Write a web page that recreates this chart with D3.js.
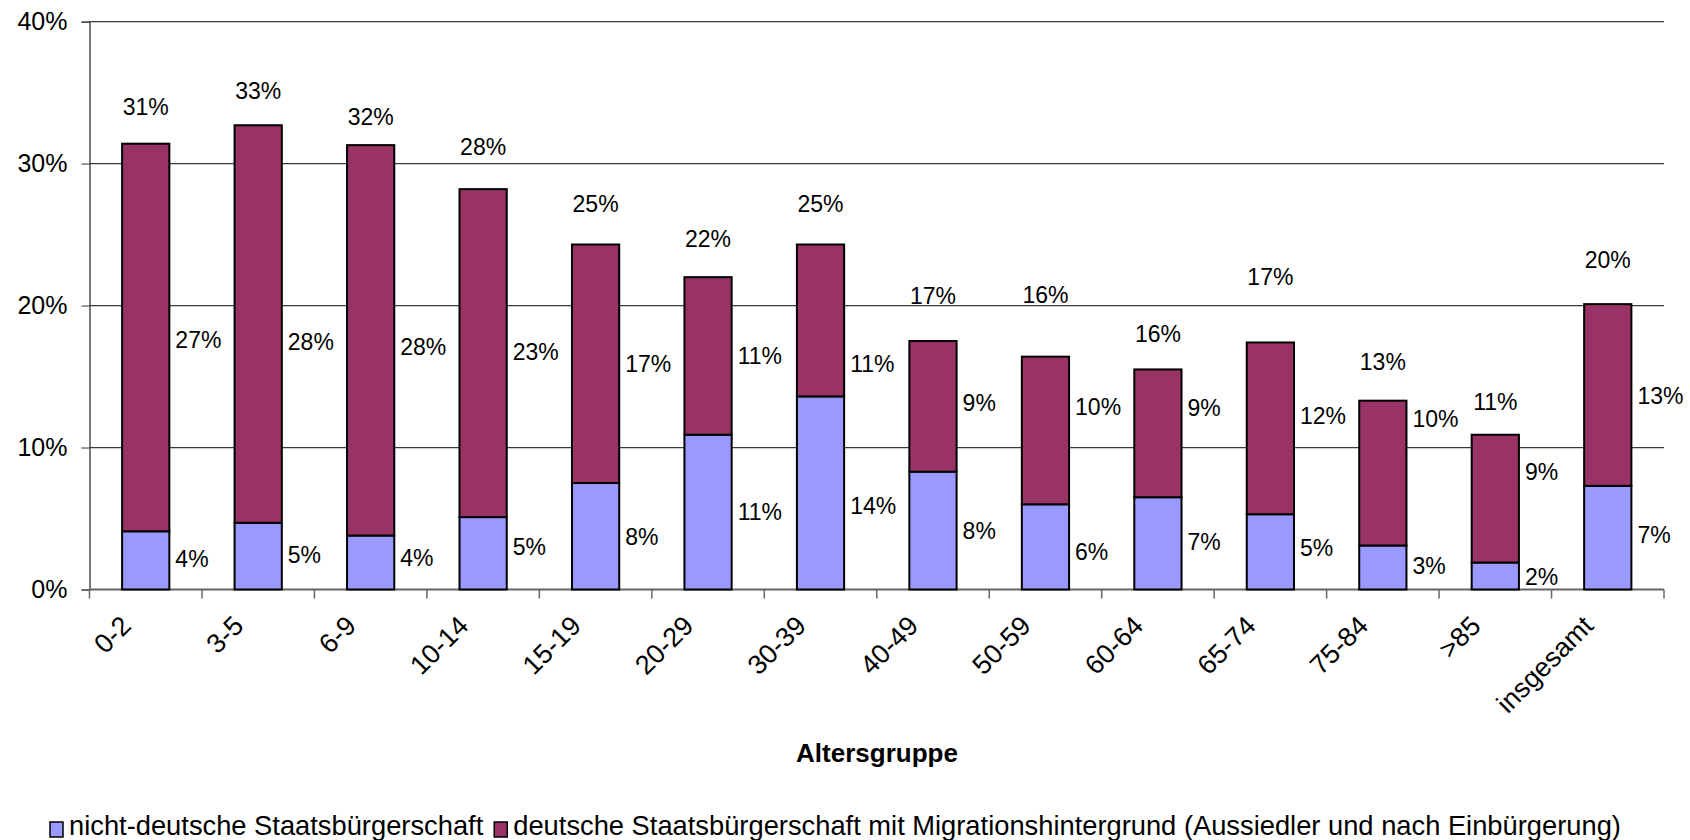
<!DOCTYPE html>
<html>
<head>
<meta charset="utf-8">
<script src="https://cdn.jsdelivr.net/npm/d3@7"></script>
<style>
	body { margin: 0; background: #fff; }
	#canvas { display: block; font-family: "Liberation Sans", Arial, sans-serif; }
</style>
</head>
<body>
<div id="main"></div>
<script>

var categories = ["0-2", "3-5", "6-9", "10-14", "15-19", "20-29", "30-39", "40-49", "50-59", "60-64", "65-74", "75-84", ">85", "insgesamt"];
var nichtDeutsch = [4.1, 4.7, 3.8, 5.1, 7.5, 10.9, 13.6, 8.3, 6.0, 6.5, 5.3, 3.1, 1.9, 7.3];
var deutschMigration = [27.3, 28.0, 27.5, 23.1, 16.8, 11.1, 10.7, 9.2, 10.4, 9.0, 12.1, 10.2, 9.0, 12.8];
var yTicks = [0, 10, 20, 30, 40];
var seriesNames = ["nicht-deutsche Staatsbürgerschaft", "deutsche Staatsbürgerschaft mit Migrationshintergrund (Aussiedler und nach Einbürgerung)"];
var colors = ["#9999ff", "#993366"];

// label nudges (px), the labels in the original were placed by hand
var totalLift = [37, 35, 28, 42, 41, 38, 41, 45, 62, 36, 66, 39, 33, 44];
var magShift = [2, 18, 6, -1, 0, 0, 43, -4, -24, -26, -13, -54, -27, 1];
var blueShift = [-2, -1, -5, -7, 0, 0, 13, 0, 5, -2, -4, -2, 1, -3];

var WIDTH = 1690, HEIGHT = 840;
var margin = {top: 21.6, right: 26, bottom: 250.5, left: 89.5};
var plotW = WIDTH - margin.left - margin.right;
var plotH = HEIGHT - margin.top - margin.bottom;

var canvas, container;

function createCanvas() {
	canvas = d3.select("#main").append("svg")
		.attr("id", "canvas")
		.attr("width", WIDTH)
		.attr("height", HEIGHT);

	container = canvas.append("g")
		.attr("id", "container")
		.attr("transform", "translate(" + margin.left + "," + margin.top + ")");
}

createCanvas();

var rows = categories.map(function(c, i) {
	return {cat: c, a: nichtDeutsch[i], b: deutschMigration[i], i: i};
});

var x = d3.scaleBand()
	.domain(categories)
	.range([0, plotW])
	.paddingInner(0.58)
	.paddingOuter(0.29);

var y = d3.scaleLinear()
	.domain([0, 40])
	.range([plotH, 0]);

// gridlines
container.append("g")
	.selectAll("line")
	.data(yTicks.filter(function(d) { return d > 0; }))
	.enter().append("line")
		.attr("x1", 0)
		.attr("x2", plotW)
		.attr("y1", function(d) { return y(d); })
		.attr("y2", function(d) { return y(d); })
		.attr("stroke", "#3a3a3a")
		.attr("stroke-width", 1.2);

// y axis
var yAxis = container.append("g")
	.call(d3.axisLeft(y)
		.tickValues(yTicks)
		.tickSize(8)
		.tickPadding(14)
		.tickFormat(function(d) { return d + "%"; }));
yAxis.select(".domain").attr("stroke", "#222").attr("stroke-width", 1.2);
yAxis.selectAll(".tick line").attr("stroke", "#555").attr("stroke-width", 1.2);
yAxis.selectAll(".tick text")
	.attr("font-size", 25)
	.attr("font-family", "Liberation Sans, Arial, sans-serif")
	.attr("fill", "#000");

// x axis line + ticks at band boundaries
var bounds = d3.range(categories.length + 1).map(function(i) { return x.range()[0] + i * x.step(); });
var xAxis = container.append("g").attr("transform", "translate(0," + plotH + ")");
xAxis.append("line")
	.attr("x1", 0).attr("x2", plotW)
	.attr("stroke", "#666").attr("stroke-width", 2);
xAxis.selectAll("line.tick")
	.data(bounds)
	.enter().append("line")
		.attr("class", "tick")
		.attr("x1", function(d) { return d; })
		.attr("x2", function(d) { return d; })
		.attr("y1", 0).attr("y2", 9)
		.attr("stroke", "#666").attr("stroke-width", 1.5);

xAxis.selectAll("text")
	.data(categories)
	.enter().append("text")
		.attr("transform", function(d) {
			return "translate(" + (x(d) + x.bandwidth() / 2 - 13) + ",38) rotate(-45)";
		})
		.attr("text-anchor", "end")
		.attr("font-size", 27)
		.text(function(d) { return d; });

// bars
var bars = container.append("g");
bars.selectAll("rect.a")
	.data(rows)
	.enter().append("rect")
		.attr("class", "a")
		.attr("x", function(d) { return x(d.cat); })
		.attr("width", x.bandwidth())
		.attr("y", function(d) { return y(d.a); })
		.attr("height", function(d) { return y(0) - y(d.a); })
		.attr("fill", colors[0])
		.attr("stroke", "#000")
		.attr("stroke-width", 2);

bars.selectAll("rect.b")
	.data(rows)
	.enter().append("rect")
		.attr("class", "b")
		.attr("x", function(d) { return x(d.cat); })
		.attr("width", x.bandwidth())
		.attr("y", function(d) { return y(d.a + d.b); })
		.attr("height", function(d) { return y(d.a) - y(d.a + d.b); })
		.attr("fill", colors[1])
		.attr("stroke", "#000")
		.attr("stroke-width", 2);

// data labels
var labels = container.append("g")
	.attr("font-size", 23)
	.attr("fill", "#000");

labels.selectAll("text.a")
	.data(rows)
	.enter().append("text")
		.attr("x", function(d) { return x(d.cat) + x.bandwidth() + 6; })
		.attr("y", function(d) { return (y(0) + y(d.a)) / 2 + blueShift[d.i]; })
		.attr("dy", "0.36em")
		.text(function(d) { return Math.round(d.a) + "%"; });

labels.selectAll("text.b")
	.data(rows)
	.enter().append("text")
		.attr("x", function(d) { return x(d.cat) + x.bandwidth() + 6; })
		.attr("y", function(d) { return (y(d.a) + y(d.a + d.b)) / 2 + magShift[d.i]; })
		.attr("dy", "0.36em")
		.text(function(d) { return Math.round(d.b) + "%"; });

labels.selectAll("text.total")
	.data(rows)
	.enter().append("text")
		.attr("x", function(d) { return x(d.cat) + x.bandwidth() / 2; })
		.attr("y", function(d) { return y(d.a + d.b) - totalLift[d.i]; })
		.attr("dy", "0.36em")
		.attr("text-anchor", "middle")
		.text(function(d) { return (Math.round(d.a) + Math.round(d.b)) + "%"; });

// axis title
canvas.append("text")
	.attr("x", 877)
	.attr("y", 762)
	.attr("text-anchor", "middle")
	.attr("font-size", 26)
	.attr("font-weight", "bold")
	.text("Altersgruppe");

// legend
var legend = canvas.append("g").attr("transform", "translate(50,835)");
var lx = 0;
seriesNames.forEach(function(name, i) {
	legend.append("rect")
		.attr("x", lx).attr("y", -13)
		.attr("width", 13).attr("height", 15)
		.attr("fill", colors[i])
		.attr("stroke", "#000")
		.attr("stroke-width", 1.5);
	var t = legend.append("text")
		.attr("x", lx + 19)
		.attr("y", 0)
		.attr("font-size", 27.3)
		.text(name);
	lx += 19 + t.node().getComputedTextLength() + 11;
});

</script>
</body>
</html>
